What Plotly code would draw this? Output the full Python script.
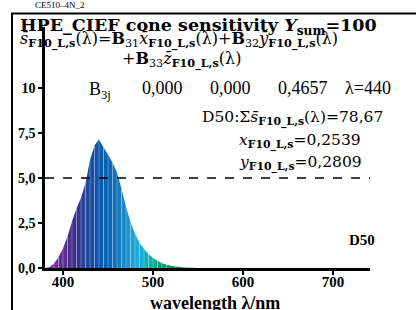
import plotly.graph_objects as go

# ---------------- data ----------------
wavelengths = list(range(380, 745, 5))
sensitivity = [0.0, 0.05, 0.25, 0.6, 1.1, 1.75, 2.6, 3.3, 3.9, 4.7,
               6.0, 6.8, 7.15, 6.7, 6.3, 5.85, 5.3, 4.4, 3.4, 2.55,
               1.9, 1.4, 1.05, 0.78, 0.55, 0.4, 0.27, 0.18, 0.12, 0.08,
               0.05, 0.03, 0.02, 0.01, 0.005] + [0.0] * 38
x_tick_vals = [400, 500, 600, 700]
x_tick_text = ["400", "500", "600", "700"]
y_tick_vals = [0, 2.5, 5, 7.5, 10]
y_tick_text = ["0,0", "2,5", "5,0", "7,5", "10"]
ref_level = 5.0
B3j = ["0,000", "0,000", "0,4657"]
lam_max = 440
sum_value = "78,67"
x_chrom = "0,2539"
y_chrom = "0,2809"

# ---------------- styling ----------------
anchor_colors = [
    (380, (125, 60, 155)), (395, (105, 50, 152)), (405, (85, 45, 145)),
    (415, (55, 50, 140)), (425, (38, 68, 154)), (435, (18, 82, 166)),
    (445, (10, 92, 172)), (455, (16, 107, 181)), (465, (26, 128, 195)),
    (475, (31, 154, 213)), (482, (30, 170, 224)), (490, (16, 176, 200)),
    (500, (17, 170, 152)), (510, (16, 160, 112)), (520, (16, 149, 85)),
    (540, (40, 120, 60)), (570, (60, 70, 30)), (595, (200, 120, 40)),
    (600, (110, 35, 35)), (740, (90, 30, 30)),
]


def color_at(w):
    for (w0, c0), (w1, c1) in zip(anchor_colors[:-1], anchor_colors[1:]):
        if w0 <= w <= w1:
            t = (w - w0) / (w1 - w0)
            c = [round(a + (b - a) * t) for a, b in zip(c0, c1)]
            return "rgb(%d,%d,%d)" % tuple(c)
    return "rgb(90,30,30)"


SERIF = "Liberation Serif"
WIDE = "DejaVu Serif"
L, R, T, B = 45, 46, 27, 42
W, H = 416, 310
PW, PH = W - L - R, H - T - B


def px(x):
    return (x - L) / PW


def py(y):
    return (H - B - y) / PH


fig = go.Figure()

# spectral strips
for i in range(len(wavelengths) - 1):
    a, b = wavelengths[i], wavelengths[i + 1]
    va, vb = sensitivity[i], sensitivity[i + 1]
    if va == 0 and vb == 0:
        continue
    fig.add_trace(go.Scatter(
        x=[a, a, b, b, a], y=[0, va, vb, 0, 0], mode="lines",
        fill="toself", fillcolor=color_at((a + b) / 2),
        line=dict(width=0), hoverinfo="skip", showlegend=False))

# light separators between strips
sx, sy = [], []
for w, v in zip(wavelengths, sensitivity):
    if v > 0.15:
        sx += [w, w, None]
        sy += [0, v, None]
fig.add_trace(go.Scatter(x=sx, y=sy, mode="lines",
                         line=dict(color="rgba(255,255,255,0.35)", width=0.8),
                         hoverinfo="skip", showlegend=False))

xmax = 380 + PW / 0.9
ymax = PH / 18.0

axis_common = dict(showgrid=False, zeroline=False, showline=True,
                   linecolor="black", linewidth=2.5, ticks="outside",
                   ticklen=4, tickwidth=2, tickcolor="black")
fig.update_xaxes(range=[380, xmax], tickvals=x_tick_vals, ticktext=x_tick_text,
                 tickfont=dict(family=SERIF, size=15, color="black", weight="bold"),
                 ticklabelstandoff=-6, **axis_common)
fig.update_yaxes(range=[0, ymax], tickvals=y_tick_vals, ticktext=y_tick_text,
                 tickfont=dict(family=SERIF, size=14, color="black", weight="bold"),
                 **axis_common)

shapes = [
    dict(type="line", xref="x", yref="y", x0=380, x1=xmax, y0=ref_level, y1=ref_level,
         line=dict(color="black", width=1.3, dash="dash")),
    dict(type="rect", xref="paper", yref="paper", x0=px(12), x1=px(430),
         y0=py(330), y1=py(13.5), line=dict(color="black", width=2)),
]

ann = []


def text(x, y, s, size=18, anchor="left", bold=False, family=WIDE):
    ann.append(dict(xref="paper", yref="paper", x=px(x), y=py(y), text=s,
                    showarrow=False, xanchor=anchor, yanchor="middle",
                    font=dict(family=family, size=size, color="black",
                              weight="bold" if bold else "normal")))


F = "<sub><b>F10_L,s</b></sub>"
text(33, 5, "CE510–4N_2", size=9, family=SERIF)
text(18, 26, "<b>HPE_CIEF cone sensitivity </b><b><i>Y</i></b><sub><b>sum</b></sub><b>=100</b>", size=17.5)
text(18, 40, "<i>s̄</i>" + F + "(λ)=<b>B</b><sub>31</sub><i>x̄</i>" + F +
     "(λ)+<b>B</b><sub>32</sub><i>ȳ</i>" + F + "(λ)", size=16)
text(120, 60, "+<b>B</b><sub>33</sub><i>z̄</i>" + F + "(λ)", size=16)
text(87, 91, "B<sub>3j</sub>", size=18, family=SERIF)
for xpos, val in zip([140, 208, 276], B3j):
    text(xpos, 88, val, size=18, family=SERIF)
text(343, 88, "λ=%d" % lam_max, size=18, family=SERIF)
text(200, 118, "D50:Σ<i>s̄</i>" + F + "(λ)=" + sum_value, size=15.5)
text(237, 141, "<i>x</i>" + F + "=" + x_chrom, size=15.5)
text(237, 163, "<i>y</i>" + F + "=" + y_chrom, size=15.5)
text(347, 240, "D50", size=15, bold=True, family=SERIF)
text(215, 303, "wavelength λ/nm", size=18, anchor="center", bold=True, family=SERIF)

# axis arrows
ann.append(dict(xref="x", yref="y", x=xmax + 1.5, y=0, ax=-14, ay=0, text="",
                showarrow=True, arrowhead=2, arrowsize=1, arrowwidth=2.5,
                arrowcolor="black"))
ann.append(dict(xref="x", yref="y", x=380, y=ymax + 0.1, ax=0, ay=14, text="",
                showarrow=True, arrowhead=2, arrowsize=1, arrowwidth=2.5,
                arrowcolor="black"))

fig.update_layout(width=W, height=H, margin=dict(l=L, r=R, t=T, b=B),
                  paper_bgcolor="white", plot_bgcolor="white",
                  shapes=shapes, annotations=ann, showlegend=False)
fig.write_html("out.html", config={"displayModeBar": False},
               post_script="document.body.style.margin='0';document.body.style.overflow='hidden';")
